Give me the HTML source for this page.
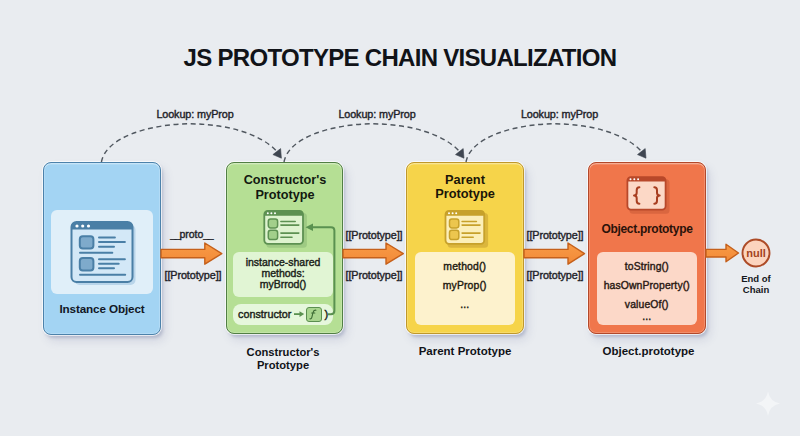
<!DOCTYPE html>
<html><head><meta charset="utf-8">
<style>
*{margin:0;padding:0;box-sizing:border-box}
html,body{width:800px;height:436px;overflow:hidden}
body{background:#e9ecf0;font-family:"Liberation Sans",sans-serif;position:relative;color:#15181d}
.a{position:absolute}
.t{position:absolute;white-space:nowrap;line-height:1}
.c{text-align:center}
.b{font-weight:bold}
.m{-webkit-text-stroke:0.4px currentColor}
.box{position:absolute;border-radius:8px;border:1.8px solid;box-shadow:inset 0 1.5px 0 rgba(255,255,255,.28),inset 0 0 0 1px rgba(255,255,255,.18),0 0 0 1px rgba(255,255,255,.7),2px 3px 3px rgba(80,90,140,.24),4px 6px 10px rgba(80,90,140,.15)}
.pan{position:absolute;border-radius:6px}
svg{position:absolute;left:0;top:0;overflow:visible}
</style></head>
<body>

<div class="t b c" id="title" style="left:150px;width:500px;top:45.6px;font-size:24px;letter-spacing:-0.7px;color:#111318">JS PROTOTYPE CHAIN VISUALIZATION</div>

<!-- boxes -->
<div class="box" id="bx1" style="left:43px;top:162px;width:117.6px;height:172.8px;background:#a3d4f3;border-color:#4c82ab"></div>
<div class="box" id="bx2" style="left:226px;top:162.2px;width:117px;height:172px;background:#b5df94;border-color:#517f44"></div>
<div class="box" id="bx3" style="left:406px;top:162px;width:117.5px;height:172px;background:#f6d44a;border-color:#c0982a"></div>
<div class="box" id="bx4" style="left:588px;top:162px;width:117.5px;height:172px;background:#f0764b;border-color:#b3482a"></div>

<!-- panels -->
<div class="pan" style="left:51px;top:209.5px;width:102px;height:84.5px;background:#e0eff9"></div>
<div class="pan" style="left:233px;top:252px;width:100px;height:44.5px;background:#e1f5d4"></div>
<div class="pan" style="left:233px;top:304px;width:100px;height:20.5px;background:#e6f7dc;border-radius:8px"></div>
<div class="pan" style="left:414.5px;top:252px;width:100.5px;height:72.5px;background:#fdf2cd"></div>
<div class="pan" style="left:596.5px;top:252px;width:100.5px;height:73px;background:#fcd8c8"></div>

<!-- SVG graphics -->
<svg width="800" height="436" viewBox="0 0 800 436">
  <defs>
    <linearGradient id="og" x1="0" y1="0" x2="0" y2="1"><stop offset="0" stop-color="#f89a45"/><stop offset="1" stop-color="#f28a38"/></linearGradient>
    <marker id="ah" markerWidth="10" markerHeight="10" refX="8" refY="5" orient="auto" markerUnits="userSpaceOnUse">
      <path d="M0,0.5 L9,5 L0,9.5 z" fill="#3f4754"/>
    </marker>
  </defs>
  <!-- dashed lookup arcs -->
  <g id="arc1">
    <path d="M101.4,162 C106,137 150,124 190,123.8 C225,124 260,133 277,151.5" fill="none" stroke="#50575f" stroke-width="1.45" stroke-dasharray="5 3.6"/>
    <path d="M281.4,158.2 L272.9,154.6 L280.6,148.6 z" fill="#3f4651" stroke="#3f4651" stroke-width="0.6" stroke-linejoin="round"/>
  </g>
  <use href="#arc1" transform="translate(182.6,0)"/>
  <use href="#arc1" transform="translate(364.6,0)"/>

  <!-- orange arrows -->
  <g fill="url(#og)" stroke="#c5601b" stroke-width="1.4" stroke-linejoin="round">
    <path d="M161,249.4 H204.8 V243 L221.8,253.6 L204.8,264.2 V257.8 H161 z"/>
    <path d="M343,249.4 H386 V243 L403.3,253.6 L386,264.2 V257.8 H343 z"/>
    <path d="M524,249.4 H568 V243 L584.5,253.6 L568,264.2 V257.8 H524 z"/>
    <path d="M706,249.4 H726 V244.2 L738.5,253 L726,261.8 V257 H706 z"/>
  </g>

  <!-- null circle -->
  <circle cx="756" cy="253" r="13.5" fill="#fcd4be" stroke="#ad4b27" stroke-width="1.9"/>

  <!-- Instance icon -->
  <g transform="translate(70.5,221)">
    <rect x="4" y="4" width="61" height="60" rx="5" fill="#b9d5ea"/>
    <rect x="1" y="1" width="61" height="60" rx="5" fill="#d3e8f7" stroke="#4a7fa6" stroke-width="2"/>
    <path d="M1,8.6 V6 Q1,1 6,1 H57 Q62,1 62,6 V8.6 z" fill="#4a7fa6"/>
    <circle cx="6.5" cy="5" r="1.6" fill="#fff"/><circle cx="12.2" cy="5" r="1.6" fill="#fff"/><circle cx="18" cy="5" r="1.6" fill="#fff"/>
    <rect x="9.3" y="15.3" width="13.6" height="12.2" rx="3" fill="#7eaacb" stroke="#4a7fa6" stroke-width="2"/>
    <rect x="9.3" y="37" width="13.6" height="12.4" rx="3" fill="#7eaacb" stroke="#4a7fa6" stroke-width="2"/>
    <g stroke="#4a7fa6" stroke-width="2" stroke-linecap="round">
      <path d="M28.5,16.4 H44.4 M28.5,21 H54.4 M28.5,25.8 H43.5 M9.5,31.8 H41.8 M28.5,38.2 H54.4 M28.5,42.7 H48.2 M28.5,47.3 H43.5 M9.5,53.7 H54.7"/>
    </g>
  </g>

  <!-- Constructor icon -->
  <g transform="translate(263.4,210)">
    <rect x="3" y="3" width="40.5" height="34.7" rx="3.5" fill="#8fbd78" opacity=".6"/>
    <rect x="0.9" y="0.9" width="38.7" height="32.9" rx="3.5" fill="#def3cf" stroke="#5d9152" stroke-width="1.8"/>
    <path d="M0.9,5.8 V4.4 Q0.9,0.9 4.4,0.9 H36.1 Q39.6,0.9 39.6,4.4 V5.8 z" fill="#5d9152"/>
    <circle cx="4.4" cy="3.2" r="1" fill="#fff"/><circle cx="8" cy="3.2" r="1" fill="#fff"/><circle cx="11.6" cy="3.2" r="1" fill="#fff"/>
    <rect x="4.9" y="8.9" width="9.3" height="9" rx="2.3" fill="#a2cf8b" stroke="#5d9152" stroke-width="1.5"/>
    <rect x="4.9" y="20.3" width="9.3" height="9.3" rx="2.3" fill="#a2cf8b" stroke="#5d9152" stroke-width="1.5"/>
    <g stroke="#5d9152" stroke-width="1.6" stroke-linecap="round">
      <path d="M17.5,11.5 H31.8 M17.5,15.1 H35.4 M17.5,23.1 H35.4 M17.5,27.2 H28.6"/>
    </g>
  </g>
  <!-- constructor back arrow -->
  <path d="M328,314.2 H331 Q334.4,314.2 334.4,310.8 V230.6 Q334.4,227.2 331,227.2 H311" fill="none" stroke="#5a9150" stroke-width="2"/>
  <path d="M305.5,227.2 L313,223.4 L313,231 z" fill="#5a9150"/>

  <path d="M294,314.1 H301" stroke="#5a9150" stroke-width="1.8"/>
  <path d="M304.2,314.1 L299.5,311.2 L299.5,317 z" fill="#5a9150"/>
  <!-- Parent icon -->
  <g transform="translate(444.6,210)">
    <rect x="3" y="3" width="40.5" height="34.7" rx="3.5" fill="#c9a233" opacity=".6"/>
    <rect x="0.9" y="0.9" width="38.7" height="32.9" rx="3.5" fill="#fcefb9" stroke="#c7a12b" stroke-width="1.8"/>
    <path d="M0.9,5.8 V4.4 Q0.9,0.9 4.4,0.9 H36.1 Q39.6,0.9 39.6,4.4 V5.8 z" fill="#c7a12b"/>
    <circle cx="4.4" cy="3.2" r="1" fill="#fff"/><circle cx="8" cy="3.2" r="1" fill="#fff"/><circle cx="11.6" cy="3.2" r="1" fill="#fff"/>
    <rect x="4.9" y="8.9" width="9.3" height="9" rx="2.3" fill="#ecc64e" stroke="#c7a12b" stroke-width="1.5"/>
    <rect x="4.9" y="20.3" width="9.3" height="9.3" rx="2.3" fill="#ecc64e" stroke="#c7a12b" stroke-width="1.5"/>
    <g stroke="#c7a12b" stroke-width="1.6" stroke-linecap="round">
      <path d="M17.5,11.5 H31.8 M17.5,15.1 H35.4 M17.5,23.1 H35.4 M17.5,27.2 H28.6"/>
    </g>
  </g>

  <!-- Object icon -->
  <g transform="translate(626.5,176.3)">
    <rect x="3" y="3" width="40" height="34.5" rx="3.5" fill="#c85a36" opacity=".55"/>
    <rect x="0.9" y="0.9" width="38.2" height="32.4" rx="3.5" fill="#fcd8c6" stroke="#b8482a" stroke-width="1.8"/>
    <path d="M0.9,5.3 V4.4 Q0.9,0.9 4.4,0.9 H35.6 Q39.1,0.9 39.1,4.4 V5.3 z" fill="#b8482a"/>
    <circle cx="4" cy="2.9" r="1" fill="#fff"/><circle cx="7.8" cy="2.9" r="1" fill="#fff"/><circle cx="11.6" cy="2.9" r="1" fill="#fff"/>
  </g>
</svg>

<!-- braces text -->
<svg width="800" height="436" viewBox="0 0 800 436"><g fill="none" stroke="#a83e20" stroke-width="2" stroke-linecap="round" stroke-linejoin="round">
<path d="M639.4,187.3 Q636.7,187.3 636.7,190.3 V192.8 Q636.7,195.4 634,195.4 Q636.7,195.4 636.7,198 V200.8 Q636.7,203.8 639.4,203.8"/>
<path d="M654.3,187.3 Q657,187.3 657,190.3 V192.8 Q657,195.4 659.7,195.4 Q657,195.4 657,198 V200.8 Q657,203.8 654.3,203.8"/>
</g></svg>

<!-- lookup labels -->
<div class="t c m" style="left:145px;width:100px;top:108.8px;font-size:10.8px;letter-spacing:-0.1px;color:#1f2329">Lookup: myProp</div>
<div class="t c m" style="left:327px;width:100px;top:108.8px;font-size:10.8px;letter-spacing:-0.1px;color:#1f2329">Lookup: myProp</div>
<div class="t c m" style="left:509.5px;width:100px;top:108.8px;font-size:10.8px;letter-spacing:-0.1px;color:#1f2329">Lookup: myProp</div>

<!-- arrow labels -->
<div class="t c m" style="left:160px;width:64px;top:229.4px;font-size:10.5px;color:#1f2329"><span style="letter-spacing:-1.3px">__</span>proto<span style="letter-spacing:-1.3px">_</span>_</div>
<div class="t c m" style="left:161px;width:64px;top:269.5px;font-size:10.8px;letter-spacing:-0.1px;color:#1f2329">[[Prototype]]</div>
<div class="t c m" style="left:342px;width:64px;top:230px;font-size:10.8px;letter-spacing:-0.1px;color:#1f2329">[[Prototype]]</div>
<div class="t c m" style="left:342px;width:64px;top:269.5px;font-size:10.8px;letter-spacing:-0.1px;color:#1f2329">[[Prototype]]</div>
<div class="t c m" style="left:523px;width:64px;top:230px;font-size:10.8px;letter-spacing:-0.1px;color:#1f2329">[[Prototype]]</div>
<div class="t c m" style="left:523px;width:64px;top:269.5px;font-size:10.8px;letter-spacing:-0.1px;color:#1f2329">[[Prototype]]</div>

<!-- box titles -->
<div class="t b c" style="left:43px;width:118px;top:302.8px;font-size:11.7px;letter-spacing:-0.12px;color:#121826">Instance Object</div>
<div class="t b c" style="left:226px;width:118px;top:173.1px;font-size:12.7px;line-height:14.4px;color:#121810">Constructor's<br>Prototype</div>
<div class="t b c" style="left:406px;width:118px;top:172.9px;font-size:12.8px;line-height:14.4px;color:#1a1508">Parent<br>Prototype</div>
<div class="t b c" style="left:588px;width:118px;top:222.7px;font-size:12px;letter-spacing:-0.3px;color:#2a120a">Object.prototype</div>

<!-- panel texts -->
<div class="t c m" style="left:233px;width:100px;top:257.4px;font-size:10.5px;line-height:10.9px;color:#1a1e18">instance-shared<br>methods:<br>myBrrod()</div>
<div class="t m" style="left:238px;top:308.5px;font-size:10.8px;color:#1a1e18">constructor</div>
<div class="a" style="left:306.2px;top:306.6px;width:15.6px;height:15.3px;border:1.6px solid #5a8f4f;border-radius:3px;background:#a9d58f"></div>
<svg width="800" height="436" viewBox="0 0 800 436"><path d="M316,310.2 Q313.6,309.8 313,312.6 L311.9,317.2 Q311.4,319.2 309.9,318.8 M311.7,313 H314.8" fill="none" stroke="#3c6a33" stroke-width="1.1" stroke-linecap="round"/></svg>
<div class="t m" style="left:324.5px;top:308.5px;font-size:11px;color:#1a1e18">)</div>

<div class="t c m" style="left:414.5px;width:100.5px;top:256.8px;font-size:10.4px;line-height:19.15px;letter-spacing:0.15px;color:#1e1a10">method()<br>myProp()<br>...</div>
<div class="t c m" style="left:596.5px;width:100.5px;top:256.8px;font-size:10.4px;line-height:19.15px;letter-spacing:0.12px;color:#2a1a14">toString()<br>hasOwnProperty()<br>valueOf()</div>
<div class="t c m" style="left:596.5px;width:100.5px;top:307px;font-size:10.4px;line-height:19.15px;letter-spacing:0.12px;color:#2a1a14">...</div>

<!-- null -->
<div class="t b c" style="left:736px;width:40px;top:247.8px;font-size:11px;color:#a3431f">null</div>
<div class="t b c" style="left:736px;width:40px;top:274px;font-size:9.5px;line-height:10.6px;color:#14171c">End of<br>Chain</div>

<!-- bottom labels -->
<div class="t b c" style="left:220px;width:126px;top:346px;font-size:11.2px;line-height:13px;color:#111318">Constructor's<br>Prototype</div>
<div class="t b c" style="left:400px;width:130px;top:346.2px;font-size:11.5px;color:#111318">Parent Prototype</div>
<div class="t b c" style="left:583.5px;width:130px;top:346.2px;font-size:11.5px;color:#111318">Object.prototype</div>

<!-- sparkle -->
<svg width="800" height="436" viewBox="0 0 800 436"><path d="M768,391.5 Q769.8,401.5 780,403.6 Q769.8,405.7 768,415.8 Q766.2,405.7 756,403.6 Q766.2,401.5 768,391.5 z" fill="#f3f5f7" style="filter:blur(0.4px)"/></svg>
</body></html>
